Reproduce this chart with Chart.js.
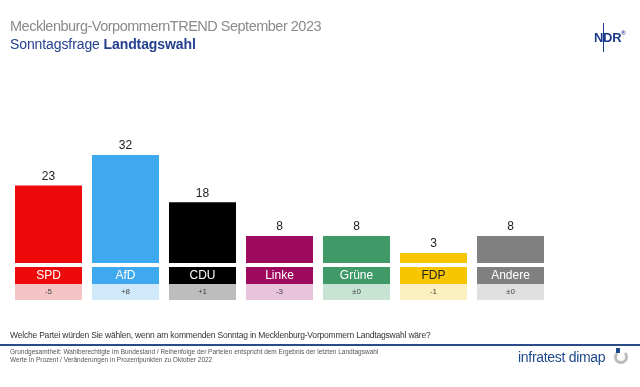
<!DOCTYPE html>
<html>
<head>
<meta charset="utf-8">
<script src="https://cdn.jsdelivr.net/npm/chart.js@4.4.0/dist/chart.umd.min.js"></script>
<style>
    body { margin: 0; background: #fff; font-family: "Liberation Sans", Arial, sans-serif; }
    #wrap { position: relative; width: 640px; height: 387px; overflow: hidden; }
    #chart { position: absolute; left: 0; top: 0; }
    .txt { position: absolute; white-space: nowrap; }
    #title { left: 10px; top: 18px; font-size: 14.5px; color: #8a8a8a; letter-spacing: -0.5px; }
    #subtitle { left: 10px; top: 36px; font-size: 14px; color: #24408e; letter-spacing: -0.1px; }
    #subtitle b { font-weight: bold; }
    #ndr { left: 594px; top: 30px; font-size: 13px; font-weight: bold; color: #1d3b8b; letter-spacing: -0.3px; }
    #ndr sup { font-size: 6px; vertical-align: top; }
    #ndrline { position: absolute; left: 603px; top: 23px; width: 1px; height: 29px; background: #1d3b8b; }
    #question { left: 10px; top: 330px; font-size: 8.5px; color: #333; letter-spacing: -0.2px; }
    #rule { position: absolute; left: 0; top: 344px; width: 640px; height: 2px; background: #2a4a8a; }
    #foot { left: 10px; top: 348px; font-size: 6.5px; line-height: 8px; color: #555; }
    #infra { left: 518px; top: 349px; font-size: 14px; color: #1d4a8a; letter-spacing: -0.3px; }
    #logo { position: absolute; left: 614px; top: 350px; width: 14px; height: 14px; border: 3px solid #bbb; border-top-color: transparent; border-radius: 50%; box-sizing: border-box; }
    #logoDot { position: absolute; left: 616px; top: 348px; width: 4px; height: 5px; background: #1d4a8a; }
</style>
</head>
<body>
<div id="wrap">
    <canvas id="chart" width="640" height="387"></canvas>
    <div class="txt" id="title">Mecklenburg-VorpommernTREND September 2023</div>
    <div class="txt" id="subtitle">Sonntagsfrage <b>Landtagswahl</b></div>
    <div id="ndrline"></div>
    <div class="txt" id="ndr">NDR<sup>®</sup></div>
    <div class="txt" id="question">Welche Partei würden Sie wählen, wenn am kommenden Sonntag in Mecklenburg-Vorpommern Landtagswahl wäre?</div>
    <div id="rule"></div>
    <div class="txt" id="foot">Grundgesamtheit: Wahlberechtigte im Bundesland / Reihenfolge der Parteien entspricht dem Ergebnis der letzten Landtagswahl<br>Werte in Prozent / Veränderungen in Prozentpunkten zu Oktober 2022</div>
    <div class="txt" id="infra">infratest dimap</div>
    <div id="logo"></div>
    <div id="logoDot"></div>
</div>
<script>
const parties = ['SPD', 'AfD', 'CDU', 'Linke', 'Grüne', 'FDP', 'Andere'];
const values = [23, 32, 18, 8, 8, 3, 8];
const changes = ['-5', '+8', '+1', '-3', '±0', '-1', '±0'];

const barColors = ['#ee0a0a', '#3ea9ef', '#000000', '#9e0a5e', '#3f9a68', '#f7c600', '#808080'];
const lightColors = ['#f5c4c4', '#cfe9fb', '#bdbdbd', '#e8c3dc', '#c6e3d3', '#fdf0c0', '#e0e0e0'];
const labelTextColors = ['#fff', '#fff', '#fff', '#fff', '#fff', '#222', '#fff'];

// Beschriftungen unter und über den Balken
const partyBoxes = {
    id: 'partyBoxes',
    afterDatasetsDraw(chart) {
        const { ctx } = chart;
        const meta = chart.getDatasetMeta(0);
        const base = chart.scales.y.getPixelForValue(0);
        ctx.save();
        ctx.textAlign = 'center';
        ctx.textBaseline = 'middle';
        meta.data.forEach((bar, i) => {
            const w = bar.width;
            const left = bar.x - w / 2;
            // Parteiname
            ctx.fillStyle = barColors[i];
            ctx.fillRect(left, base + 4, w, 17);
            ctx.fillStyle = labelTextColors[i];
            ctx.font = '12px "Liberation Sans", Arial, sans-serif';
            ctx.fillText(parties[i], bar.x, base + 13);
            // Veränderung
            ctx.fillStyle = lightColors[i];
            ctx.fillRect(left, base + 21, w, 16);
            ctx.fillStyle = '#444';
            ctx.font = '8px "Liberation Sans", Arial, sans-serif';
            ctx.fillText(changes[i], bar.x, base + 29);
            // Wert
            ctx.fillStyle = '#222';
            ctx.font = '12px "Liberation Sans", Arial, sans-serif';
            ctx.fillText(values[i], bar.x, bar.y - 9);
        });
        ctx.restore();
    }
};

new Chart(document.getElementById('chart'), {
    type: 'bar',
    data: {
        labels: parties,
        datasets: [{
            data: values,
            backgroundColor: barColors,
            borderWidth: 0,
            barPercentage: 0.87,
            categoryPercentage: 1.0,
        }],
    },
    options: {
        responsive: false,
        animation: false,
        layout: { padding: { top: 128, bottom: 124, left: 10, right: 91 } },
        scales: {
            x: { display: false },
            y: { display: false, min: 0, max: 40 },
        },
        plugins: {
            legend: { display: false },
            tooltip: { enabled: false },
        },
    },
    plugins: [partyBoxes],
});
</script>
</body>
</html>
